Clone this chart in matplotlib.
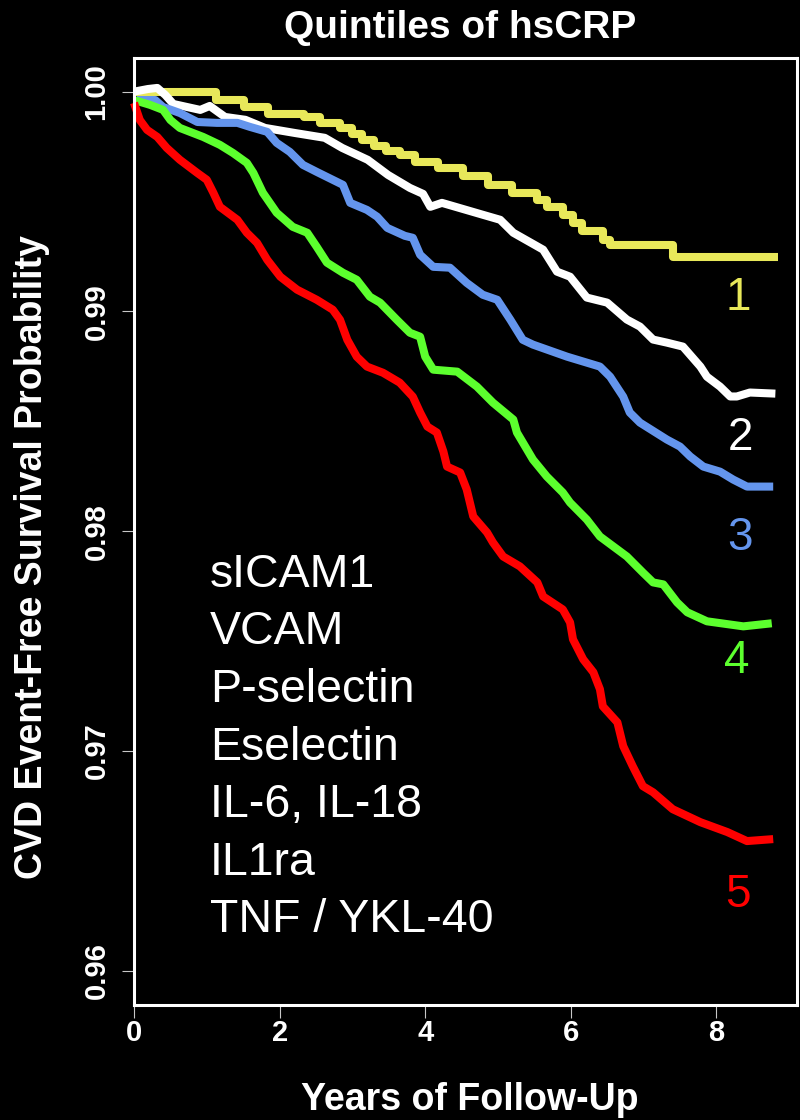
import matplotlib
matplotlib.use("Agg")
import matplotlib.pyplot as plt

# quintile 1 (step curve)
t1 = [0, 1.13, 1.51, 1.84, 2.34, 2.56, 2.83, 3.00, 3.13, 3.30, 3.46, 3.65, 3.86, 4.18, 4.52,
      4.86, 5.19, 5.54, 5.67, 5.89, 6.03, 6.15, 6.44, 6.54, 7.40, 8.85]
s1 = [1.0000, 0.9996, 0.9993, 0.9990, 0.99885, 0.99858, 0.99835, 0.99808, 0.99780, 0.99753,
      0.99730, 0.99712, 0.99680, 0.99653, 0.99617, 0.99576, 0.99540, 0.99508, 0.99476, 0.99440,
      0.99403, 0.99367, 0.99326, 0.99303, 0.99249, 0.99249]

# quintile 2
t2 = [0, 0.19, 0.32, 0.43, 0.54, 0.91, 1.04, 1.25, 1.53, 1.80, 2.21, 2.62, 2.86, 3.21, 3.49,
      3.79, 3.97, 4.07, 4.23, 4.79, 5.03, 5.21, 5.62, 5.81, 5.99, 6.22, 6.50, 6.77, 6.95, 7.13,
      7.32, 7.54, 7.78, 7.87, 8.05, 8.19, 8.28, 8.46, 8.81]
s2 = [1.0000, 1.00012, 1.00017, 0.99985, 0.99944, 0.99917, 0.99935, 0.99885, 0.99872, 0.99835,
      0.99812, 0.99790, 0.99744, 0.99690, 0.99621, 0.99562, 0.99535, 0.99476, 0.99494, 0.99440,
      0.99417, 0.99358, 0.99281, 0.99181, 0.99158, 0.99063, 0.99040, 0.98963, 0.98931, 0.98872,
      0.98858, 0.98840, 0.98749, 0.98703, 0.98658, 0.98613, 0.98613, 0.98631, 0.98626]

# quintile 3
t3 = [0.04, 0.29, 0.40, 0.63, 0.87, 1.14, 1.42, 1.59, 1.83, 1.96, 2.14, 2.32, 2.51, 2.87, 2.97,
      3.20, 3.34, 3.48, 3.72, 3.83, 3.93, 4.11, 4.34, 4.57, 4.79, 4.99, 5.17, 5.34, 5.48, 5.95,
      6.40, 6.54, 6.72, 6.81, 6.95, 7.32, 7.50, 7.64, 7.82, 8.05, 8.23, 8.42, 8.78]
s3 = [0.99962, 0.99962, 0.99930, 0.99903, 0.99862, 0.99858, 0.99858, 0.99840, 0.99817, 0.99767,
      0.99726, 0.99667, 0.99635, 0.99576, 0.99494, 0.99462, 0.99431, 0.99380, 0.99344, 0.99335,
      0.99258, 0.99203, 0.99199, 0.99130, 0.99076, 0.99053, 0.98962, 0.98871, 0.98849, 0.98794,
      0.98749, 0.98703, 0.98612, 0.98540, 0.98494, 0.98417, 0.98385, 0.98340, 0.98294, 0.98271,
      0.98235, 0.98203, 0.98203]

# quintile 4
t4 = [0, 0.22, 0.40, 0.50, 0.63, 0.95, 1.18, 1.36, 1.55, 1.64, 1.77, 1.96, 2.18, 2.38, 2.51,
      2.65, 2.87, 3.06, 3.24, 3.38, 3.61, 3.79, 3.93, 4.00, 4.11, 4.44, 4.71, 4.93, 5.21, 5.26,
      5.48, 5.67, 5.89, 5.99, 6.22, 6.40, 6.77, 6.99, 7.13, 7.27, 7.46, 7.60, 7.87, 8.37, 8.76]
s4 = [0.99962, 0.99940, 0.99917, 0.99871, 0.99835, 0.99794, 0.99758, 0.99721, 0.99676, 0.99630,
      0.99540, 0.99449, 0.99385, 0.99358, 0.99294, 0.99222, 0.99176, 0.99144, 0.99067, 0.99040,
      0.98962, 0.98903, 0.98885, 0.98794, 0.98735, 0.98726, 0.98658, 0.98585, 0.98508, 0.98449,
      0.98326, 0.98249, 0.98176, 0.98130, 0.98053, 0.97976, 0.97885, 0.97812, 0.97767, 0.97758,
      0.97676, 0.97631, 0.97590, 0.97567, 0.97581]

# quintile 5
t5 = [0, 0.08, 0.18, 0.32, 0.45, 0.63, 0.87, 1.00, 1.09, 1.18, 1.42, 1.55, 1.69, 1.83, 2.01,
      2.24, 2.51, 2.73, 2.83, 2.93, 3.06, 3.20, 3.42, 3.65, 3.83, 3.93, 4.03, 4.16, 4.25, 4.30,
      4.48, 4.57, 4.66, 4.85, 4.93, 5.07, 5.30, 5.54, 5.62, 5.89, 5.99, 6.03, 6.17, 6.31, 6.40,
      6.44, 6.64, 6.72, 6.85, 6.99, 7.13, 7.40, 7.78, 8.15, 8.42, 8.78]
s5 = [0.99949, 0.99871, 0.99826, 0.99794, 0.99744, 0.99690, 0.99630, 0.99599, 0.99540, 0.99476,
      0.99417, 0.99358, 0.99312, 0.99235, 0.99158, 0.99099, 0.99053, 0.99008, 0.98962, 0.98871,
      0.98794, 0.98749, 0.98721, 0.98676, 0.98612, 0.98540, 0.98476, 0.98449, 0.98362, 0.98294,
      0.98267, 0.98190, 0.98067, 0.97994, 0.97949, 0.97885, 0.97840, 0.97767, 0.97703, 0.97644,
      0.97585, 0.97508, 0.97417, 0.97358, 0.97281, 0.97203, 0.97130, 0.97022, 0.96931, 0.96840,
      0.96812, 0.96735, 0.96676, 0.96631, 0.96590, 0.96599]

colors = ["#E8E85A", "#FFFFFF", "#6495ED", "#5CFF2E", "#FF0000"]
quintile_labels = ["1", "2", "3", "4", "5"]
markers_text = ["sICAM1", "VCAM", "P-selectin", "Eselectin", "IL-6, IL-18", "IL1ra", "TNF / YKL-40"]
xticks = [0, 2, 4, 6, 8]
yticks = [0.96, 0.97, 0.98, 0.99, 1.00]

W, H = 800, 1120
fonts = ["Liberation Sans", "DejaVu Sans"]

fig = plt.figure(figsize=(8, 11.2), dpi=100, facecolor="black")
ax = fig.add_axes([134 / W, 1 - 1005 / H, (797 - 134) / W, (1005 - 58) / H])
ax.set_facecolor("black")

lw = 5.8
ax.step(t1, s1, where="post", color=colors[0], lw=lw, solid_capstyle="butt", clip_on=False)
for t, s, c in [(t2, s2, colors[1]), (t3, s3, colors[2]), (t4, s4, colors[3]), (t5, s5, colors[4])]:
    ax.plot(t, s, color=c, lw=lw, solid_capstyle="butt", solid_joinstyle="round", clip_on=False)

ax.set_xlim(0, 9.107)
ax.set_ylim(0.958441, 1.001532)

for sp in ax.spines.values():
    sp.set_color("white")
    sp.set_linewidth(2.2)

ax.set_xticks(xticks)
ax.set_xticklabels([str(v) for v in xticks], family=fonts, fontweight="bold", fontsize=21, color="white")
ax.set_yticks(yticks)
ax.set_yticklabels(["%.2f" % v for v in yticks], family=fonts, fontweight="bold", fontsize=21,
                   color="white", rotation=90, va="center")
ax.tick_params(axis="both", direction="out", length=9, width=0.8, color="#C8C8C8")
ax.tick_params(axis="x", pad=1)
ax.tick_params(axis="y", pad=8)

fig.text(460 / W, 1 - 28 / H, "Quintiles of hsCRP", family=fonts, fontweight="bold", fontsize=28,
         color="white", ha="center", va="center")
fig.text(470 / W, 1 - 1100 / H, "Years of Follow-Up", family=fonts, fontweight="bold", fontsize=27,
         color="white", ha="center", va="center")
fig.text(32 / W, 1 - 557 / H, "CVD Event-Free Survival Probability", family=fonts, fontweight="bold",
         fontsize=27, color="white", ha="center", va="center", rotation=90)

for i, txt in enumerate(markers_text):
    fig.text(210 / W, 1 - (586.7 + i * 57.6) / H, txt, family=fonts, fontsize=33.5, color="white",
             ha="left", va="baseline")

label_x = [738, 740, 740, 737, 738]
label_base = [310, 450, 550, 673, 907]
for lab, c, x, y in zip(quintile_labels, colors, label_x, label_base):
    fig.text(x / W, 1 - y / H, lab, family=fonts, fontsize=33, color=c, ha="center", va="baseline")

plt.savefig("out.png", dpi=100, facecolor="black")
